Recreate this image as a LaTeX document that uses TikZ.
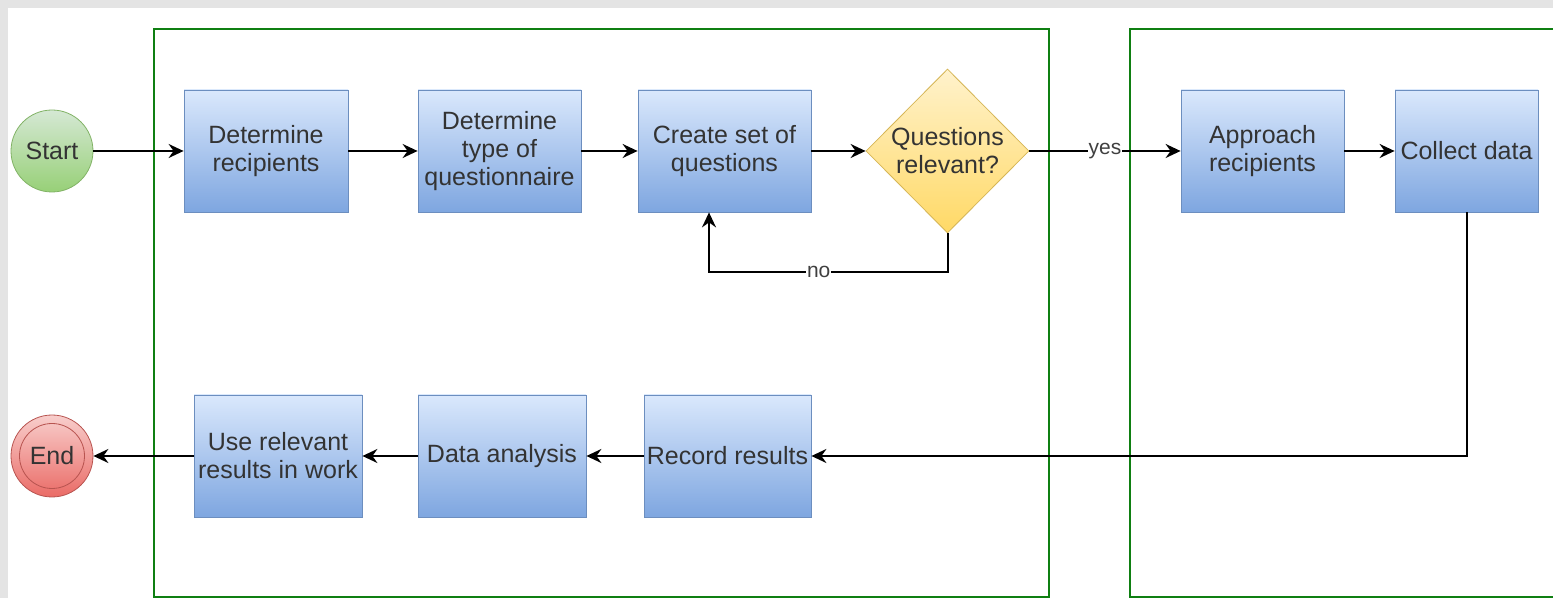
\documentclass[tikz,border=0pt]{standalone}
\usepackage{fontspec}
\setmainfont{Liberation Sans}
\usetikzlibrary{shapes.geometric,arrows.meta}

\definecolor{boxtop}{HTML}{DAE8FC}
\definecolor{boxbot}{HTML}{7EA6E0}
\definecolor{boxline}{HTML}{6C8EBF}
\definecolor{asktop}{HTML}{FFF2CC}
\definecolor{askbot}{HTML}{FFD966}
\definecolor{askline}{HTML}{D6B656}
\definecolor{starttop}{HTML}{D5E8D4}
\definecolor{startbot}{HTML}{97D077}
\definecolor{startline}{HTML}{82B366}
\definecolor{endtop}{HTML}{F8CECC}
\definecolor{endbot}{HTML}{EA6B66}
\definecolor{endline}{HTML}{B85450}
\definecolor{lanegreen}{HTML}{0F7F12}
\definecolor{paper}{HTML}{E4E4E4}

\tikzset{
  stepbox/.style={rectangle, draw=boxline, top color=boxtop, bottom color=boxbot,
    minimum height=61pt, inner sep=1pt, align=center, text=black!80,
    font=\fontsize{12.5}{14}\selectfont},
  askbox/.style={diamond, draw=askline, top color=asktop, bottom color=askbot,
    minimum width=81.5pt, minimum height=82pt, inner sep=0pt, align=center, text=black!80,
    font=\fontsize{12.5}{14}\selectfont},
  startdot/.style={circle, draw=startline, top color=starttop, bottom color=startbot,
    minimum size=41pt, inner sep=0pt, text=black!80, font=\fontsize{12.5}{14}\selectfont},
  enddot/.style={circle, draw=endline, top color=endtop, bottom color=endbot,
    minimum size=41pt, inner sep=0pt, text=black!80, font=\fontsize{12.5}{14}\selectfont,
    path picture={\draw[endline] (path picture bounding box.center) circle (16.25pt);}},
  flow/.style={line width=1pt, -{Stealth[length=7.5pt, width=7pt, inset=2.5pt]}},
  edgelabel/.style={fill=white, inner sep=0.5pt, text=black!75, font=\fontsize{10.5}{12}\selectfont},
  lane/.style={draw=lanegreen, line width=1pt}
}

\begin{document}
\begin{tikzpicture}[x=0.5pt, y=-0.5pt]
  \useasboundingbox (0,0) rectangle (1553,598);
  \clip (0,0) rectangle (1553,598);
  % Paper
  \fill[paper] (0,0) rectangle (1553,598);
  \fill[white] (8,8) rectangle (1553,598);
  % Lanes
  \draw[lane] (154,29) rectangle (1049,597);
  \draw[lane] (1130,29) rectangle (1600,597);
  % Nodes
  \node (start) [startdot] at (52,151) {Start};
  \node (detrec) [stepbox, minimum width=82pt] at (266,151) {Determine\\recipients};
  \node (dettype) [stepbox, minimum width=81.5pt] at (499.5,151) {Determine\\type of\\questionnaire};
  \node (create) [stepbox, minimum width=86.5pt] at (724.5,151) {Create set of\\questions};
  \node (relevant) [askbox] at (947.5,151) {Questions\\relevant?};
  \node (approach) [stepbox, minimum width=81.5pt] at (1262.5,151) {Approach\\recipients};
  \node (collect) [stepbox, minimum width=71.5pt] at (1466.5,151) {Collect data};
  \node (record) [stepbox, minimum width=83.5pt] at (727.5,456) {Record results};
  \node (analysis) [stepbox, minimum width=84pt] at (502,456) {Data analysis};
  \node (use) [stepbox, minimum width=84pt] at (278,456) {Use relevant\\results in work};
  \node (end) [enddot] at (52,456) {End};
  \coordinate (noturn) at (709,272);
  % Arrows
  \draw[flow] (start) -- (detrec);
  \draw[flow] (detrec) -- (dettype);
  \draw[flow] (dettype) -- (create);
  \draw[flow] (create) -- (relevant);
  \draw[flow] (relevant.south) |- node[edgelabel, pos=0.77] {no} (noturn) -- (noturn |- create.south);
  \draw[flow] (relevant) -- node[edgelabel] {yes} (approach);
  \draw[flow] (approach) -- (collect);
  \draw[flow] (collect.south) |- (record.east);
  \draw[flow] (record) -- (analysis);
  \draw[flow] (analysis) -- (use);
  \draw[flow] (use) -- (end);
\end{tikzpicture}
\end{document}
